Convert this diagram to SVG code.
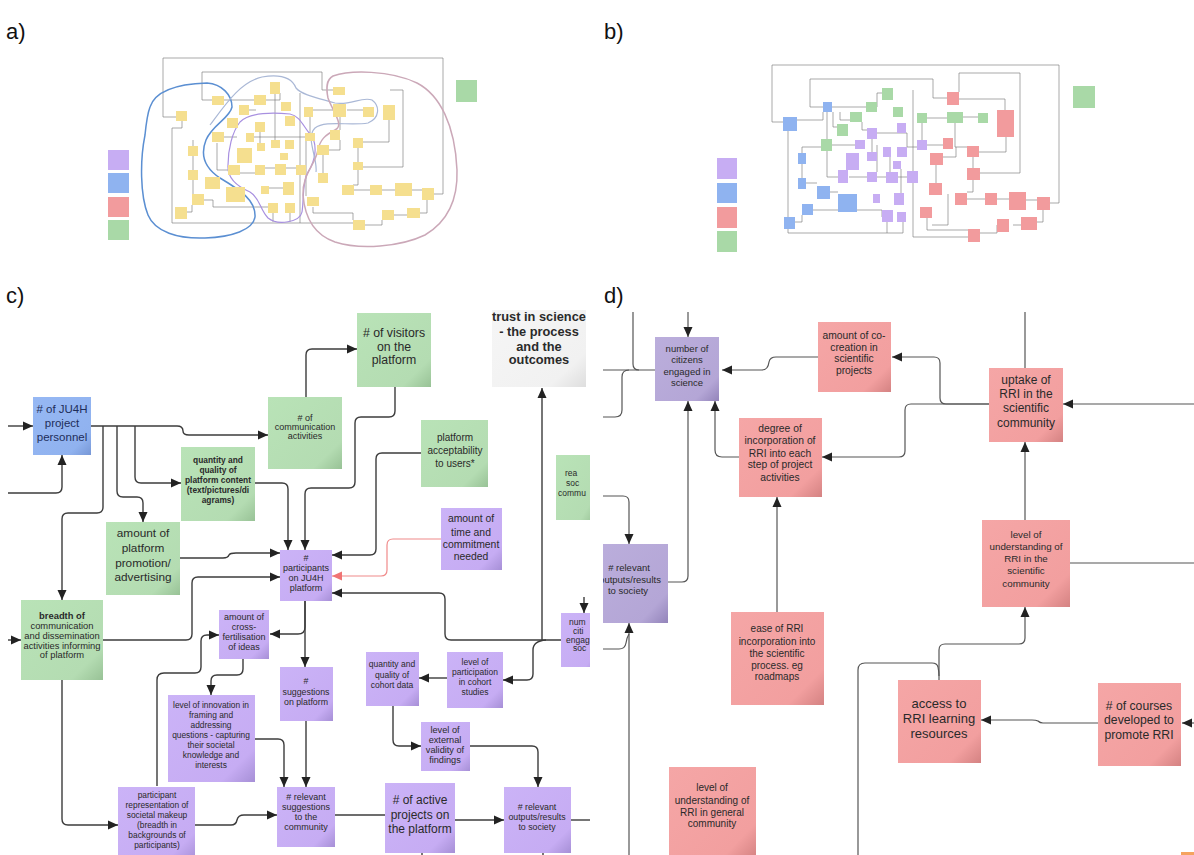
<svg xmlns="http://www.w3.org/2000/svg" width="1194" height="855" viewBox="0 0 1194 855">
<defs>
<style>
.t{font-family:'Liberation Sans',Arial,sans-serif;fill:#2a2a2a;text-anchor:middle}
.lab{font-family:'Liberation Sans',Arial,sans-serif;font-size:22px;fill:#111}
.ln{fill:none;stroke:#3c3c3c;stroke-width:1.4}
.lr{fill:none;stroke:#f08a8a;stroke-width:1.2}
.ld{fill:none;stroke:#555;stroke-width:1.2}
.tl{fill:none;stroke:#707070;stroke-width:0.6}
.ty{fill:#f5df8f}
.tg{fill:#a9d9a7}
.tp{fill:#c7adf3}
.tb{fill:#8fb3f0}
.tr{fill:#f29b9d}
.arrow{marker-end:url(#ah)}
</style>
<linearGradient id="gG" x1="0" y1="0" x2="1" y2="1"><stop offset="0" stop-color="#b9e3b7"/><stop offset="0.8" stop-color="#b4dcb2"/><stop offset="1" stop-color="#98c296"/></linearGradient>
<linearGradient id="gP" x1="0" y1="0" x2="1" y2="1"><stop offset="0" stop-color="#cbb3f7"/><stop offset="0.8" stop-color="#c6acf3"/><stop offset="1" stop-color="#a68fd6"/></linearGradient>
<linearGradient id="gB" x1="0" y1="0" x2="1" y2="1"><stop offset="0" stop-color="#96b8f4"/><stop offset="0.8" stop-color="#90b2ef"/><stop offset="1" stop-color="#7797d6"/></linearGradient>
<linearGradient id="gR" x1="0" y1="0" x2="1" y2="1"><stop offset="0" stop-color="#f5a6a6"/><stop offset="0.8" stop-color="#f29f9f"/><stop offset="1" stop-color="#d48282"/></linearGradient>
<linearGradient id="gL" x1="0" y1="0" x2="1" y2="1"><stop offset="0" stop-color="#bbaedc"/><stop offset="0.8" stop-color="#b4a6d6"/><stop offset="1" stop-color="#9384ba"/></linearGradient>
<linearGradient id="gW" x1="0" y1="0" x2="1" y2="1"><stop offset="0" stop-color="#f6f6f6"/><stop offset="0.8" stop-color="#f1f1f1"/><stop offset="1" stop-color="#dedede"/></linearGradient>
<marker id="ah" viewBox="0 0 10 10" refX="10" refY="5" markerWidth="10" markerHeight="10" markerUnits="userSpaceOnUse" orient="auto"><path d="M0,0.5 L10,5 L0,9.5 z" fill="#222"/></marker>
<marker id="ahr" viewBox="0 0 10 10" refX="10" refY="5" markerWidth="10" markerHeight="10" markerUnits="userSpaceOnUse" orient="auto"><path d="M0,0.5 L10,5 L0,9.5 z" fill="#f07474"/></marker>
<clipPath id="clipC"><rect x="8" y="310" width="582" height="545"/></clipPath>
<clipPath id="clipD"><rect x="603" y="312" width="591" height="543"/></clipPath>
</defs>
<rect width="1194" height="855" fill="#fff"/>

<g id="panel-labels">
<text class="lab" x="6" y="39">a)</text>
<text class="lab" x="604" y="39">b)</text>
<text class="lab" x="6" y="303">c)</text>
<text class="lab" x="604" y="303">d)</text>
</g>

<!-- Panel a thumbnail -->
<g id="panel-a">
<g id="a-connectors">
<path class="tl" d="M163,58 H443 V194 H433"/>
<path class="tl" d="M163,58 V117 H176"/>
<path class="tl" d="M202,72 H322 V90 H333"/>
<path class="tl" d="M202,72 V100 H212"/>
<path class="tl" d="M182,121 V128 H172 V223 H300"/>
<path class="tl" d="M300,93 V223 H353"/>
<path class="tl" d="M223,100 H254"/>
<path class="tl" d="M266,100 H280 V93"/>
<path class="tl" d="M212,137 H237"/>
<path class="tl" d="M193,140 V147 M193,156 V170 M193,180 V194"/>
<path class="tl" d="M217,143 V170 H228"/>
<path class="tl" d="M253,137 H307"/>
<path class="tl" d="M265,168 H275 M286,168 H296"/>
<path class="tl" d="M313,110 H333 M347,110 H363"/>
<path class="tl" d="M340,117 V130"/>
<path class="tl" d="M389,120 V142 H363"/>
<path class="tl" d="M340,140 V150 H328"/>
<path class="tl" d="M358,148 V162 M358,170 V185 H353"/>
<path class="tl" d="M323,155 V173"/>
<path class="tl" d="M363,167 H403 V90 H390"/>
<path class="tl" d="M382,190 H395 M353,190 H370 M412,190 H422"/>
<path class="tl" d="M427,200 V213 H420"/>
<path class="tl" d="M393,215 H407"/>
<path class="tl" d="M365,225 H382 V220"/>
<path class="tl" d="M313,207 V213 H353 V220"/>
<path class="tl" d="M187,212 H192 V205"/>
<path class="tl" d="M203,200 H213 V207 H268"/>
<path class="tl" d="M273,213 V222 M290,213 V222"/>
<path class="tl" d="M265,188 H283 M255,173 H240"/>
<path class="tl" d="M260,126 V143 M275,92 V140 M245,110 H256"/>
<path class="tl" d="M310,117 V133 M306,140 V196"/>
</g>
<g id="a-loops" fill="none">
<path stroke="#5b8fd2" stroke-width="1.5" d="M150,107 C155,92 175,84 207,83 C222,84 232,95 232,107 C230,118 212,125 206,140 C200,155 205,168 220,178 C240,190 256,200 255,217 C253,230 232,237 205,238 C178,239 155,232 148,215 C140,195 140,160 145,135 C146,125 147,115 150,107 Z"/>
<path stroke="#a890e0" stroke-width="1.2" d="M240,122 C248,114 268,112 290,114 C300,116 303,126 310,134 C318,143 316,160 308,172 C302,182 304,200 302,212 C300,222 278,226 268,218 C260,210 260,198 250,192 C236,186 227,178 228,165 C228,150 232,132 240,122 Z"/>
<path stroke="#aab8d6" stroke-width="1.2" d="M210,125 C225,105 240,82 262,77 C280,74 292,78 296,88 C302,95 318,98 335,103 C350,106 362,96 372,100 C380,106 380,118 368,123 C350,126 325,120 315,128 C305,138 318,158 316,172"/>
<path stroke="#cba8b8" stroke-width="1.5" d="M333,76 C350,70 390,70 417,83 C440,95 455,125 457,170 C458,200 447,222 425,235 C400,247 360,250 335,242 C315,235 305,220 303,195 C302,175 315,165 318,150 C320,140 325,135 335,130 C345,126 332,110 328,98 C326,88 326,80 333,76 Z"/>
</g>
<g id="a-nodes">
<rect id="a1" class="ty" x="176" y="111" width="11" height="10"/>
<rect id="a2" class="ty" x="212" y="96" width="12" height="9"/>
<rect id="a3" class="ty" x="254" y="95" width="12" height="10"/>
<rect id="a4" class="ty" x="270" y="82" width="10" height="12"/>
<rect id="a5" class="ty" x="239" y="105" width="10" height="10"/>
<rect id="a6" class="ty" x="281" y="102" width="10" height="9"/>
<rect id="a7" class="ty" x="227" y="118" width="11" height="10"/>
<rect id="a8" class="ty" x="255" y="122" width="10" height="10"/>
<rect id="a9" class="ty" x="285" y="116" width="10" height="10"/>
<rect id="a10" class="ty" x="212" y="132" width="12" height="10"/>
<rect id="a11" class="ty" x="246" y="133" width="8" height="9"/>
<rect id="a12" class="ty" x="304" y="107" width="9" height="10"/>
<rect id="a13" class="ty" x="333" y="104" width="13" height="13"/>
<rect id="a14" class="ty" x="363" y="107" width="11" height="10"/>
<rect id="a15" class="ty" x="383" y="105" width="12" height="15"/>
<rect id="a16" class="ty" x="333" y="87" width="12" height="8"/>
<rect id="a17" class="ty" x="188" y="146" width="10" height="10"/>
<rect id="a18" class="ty" x="257" y="143" width="8" height="8"/>
<rect id="a19" class="ty" x="271" y="140" width="9" height="8"/>
<rect id="a20" class="ty" x="285" y="140" width="9" height="9"/>
<rect id="a21" class="ty" x="237" y="148" width="15" height="15"/>
<rect id="a22" class="ty" x="305" y="133" width="10" height="8"/>
<rect id="a23" class="ty" x="330" y="130" width="10" height="10"/>
<rect id="a24" class="ty" x="353" y="138" width="10" height="10"/>
<rect id="a25" class="ty" x="317" y="145" width="12" height="10"/>
<rect id="a26" class="ty" x="280" y="153" width="8" height="7"/>
<rect id="a27" class="ty" x="188" y="170" width="10" height="10"/>
<rect id="a28" class="ty" x="205" y="177" width="15" height="12"/>
<rect id="a29" class="ty" x="228" y="165" width="12" height="10"/>
<rect id="a30" class="ty" x="255" y="165" width="10" height="10"/>
<rect id="a31" class="ty" x="275" y="164" width="11" height="11"/>
<rect id="a32" class="ty" x="296" y="165" width="10" height="10"/>
<rect id="a33" class="ty" x="353" y="162" width="10" height="8"/>
<rect id="a34" class="ty" x="318" y="173" width="10" height="10"/>
<rect id="a35" class="ty" x="226" y="187" width="19" height="15"/>
<rect id="a36" class="ty" x="261" y="186" width="8" height="8"/>
<rect id="a37" class="ty" x="283" y="182" width="11" height="13"/>
<rect id="a38" class="ty" x="192" y="194" width="12" height="11"/>
<rect id="a39" class="ty" x="175" y="207" width="12" height="12"/>
<rect id="a40" class="ty" x="268" y="203" width="10" height="10"/>
<rect id="a41" class="ty" x="285" y="203" width="10" height="10"/>
<rect id="a42" class="ty" x="307" y="197" width="12" height="9"/>
<rect id="a43" class="ty" x="342" y="185" width="12" height="10"/>
<rect id="a44" class="ty" x="370" y="185" width="12" height="10"/>
<rect id="a45" class="ty" x="395" y="183" width="17" height="13"/>
<rect id="a46" class="ty" x="422" y="188" width="12" height="12"/>
<rect id="a47" class="ty" x="382" y="210" width="12" height="10"/>
<rect id="a48" class="ty" x="407" y="208" width="13" height="10"/>
<rect id="a49" class="ty" x="353" y="220" width="12" height="10"/>
</g>
<g id="a-legend">
<rect id="a-leg1" class="tp" x="108" y="150" width="21" height="20"/>
<rect id="a-leg2" class="tb" x="108" y="173" width="21" height="20"/>
<rect id="a-leg3" class="tr" x="108" y="197" width="21" height="20"/>
<rect id="a-leg4" class="tg" x="108" y="220" width="21" height="20"/>
<rect id="a-side" class="tg" x="456" y="80" width="21" height="22"/>
</g>
</g>

<!-- Panel b thumbnail -->
<g id="panel-b">
<g id="b-connectors">
<path class="tl" d="M772,65 H1059 V203 H1050"/>
<path class="tl" d="M772,65 V122 H783"/>
<path class="tl" d="M810,79 H933 V98 H948"/>
<path class="tl" d="M810,79 V107 H823"/>
<path class="tl" d="M797,120 H823 V112"/>
<path class="tl" d="M788,131 V233 H903 V222"/>
<path class="tl" d="M887,233 V222"/>
<path class="tl" d="M913,90 V237 H968"/>
<path class="tl" d="M832,107 H866"/>
<path class="tl" d="M827,112 V139"/>
<path class="tl" d="M833,112 V127 H837"/>
<path class="tl" d="M840,112 V120 H850"/>
<path class="tl" d="M877,107 V93 H882"/>
<path class="tl" d="M827,151 V177 H838"/>
<path class="tl" d="M832,145 H855"/>
<path class="tl" d="M862,122 V130 H867"/>
<path class="tl" d="M877,133 H907 V147 H917"/>
<path class="tl" d="M872,139 V152"/>
<path class="tl" d="M927,145 H943"/>
<path class="tl" d="M922,123 V140"/>
<path class="tl" d="M927,118 H947"/>
<path class="tl" d="M963,117 H978"/>
<path class="tl" d="M955,123 V147 H967"/>
<path class="tl" d="M1006,137 V152 H979"/>
<path class="tl" d="M973,157 V168"/>
<path class="tl" d="M973,180 V192 H967"/>
<path class="tl" d="M980,173 H1020 V73 H959 V92"/>
<path class="tl" d="M953,99 H1005 V110"/>
<path class="tl" d="M936,165 V183"/>
<path class="tl" d="M943,157 H956 V147"/>
<path class="tl" d="M997,199 H1009 M967,199 H985 M1026,200 H1037"/>
<path class="tl" d="M1043,210 V222 H1037"/>
<path class="tl" d="M1013,225 H1021"/>
<path class="tl" d="M980,233 H997 V225"/>
<path class="tl" d="M927,218 V230 H968"/>
<path class="tl" d="M948,194 V225 H932"/>
<path class="tl" d="M849,177 H867 M877,177 H886 M898,177 H907"/>
<path class="tl" d="M830,192 H838 M806,183 H817"/>
<path class="tl" d="M795,222 H802 V215"/>
<path class="tl" d="M802,178 V164 M802,153 V147 H821"/>
<path class="tl" d="M813,210 H882 V217"/>
<path class="tl" d="M877,145 V172 M890,157 V172 M901,169 V193"/>
</g>
<g id="b-nodes">
<rect id="b1" class="tb" x="783" y="117" width="14" height="14"/>
<rect id="b2" class="tb" x="823" y="102" width="9" height="10"/>
<rect id="b3" class="tb" x="798" y="153" width="8" height="11"/>
<rect id="b4" class="tb" x="798" y="178" width="8" height="11"/>
<rect id="b5" class="tb" x="817" y="186" width="13" height="13"/>
<rect id="b6" class="tb" x="838" y="194" width="19" height="18"/>
<rect id="b7" class="tb" x="802" y="204" width="11" height="11"/>
<rect id="b8" class="tb" x="784" y="217" width="11" height="12"/>
<rect id="b9" class="tg" x="882" y="88" width="11" height="12"/>
<rect id="b10" class="tg" x="866" y="102" width="11" height="10"/>
<rect id="b11" class="tg" x="893" y="107" width="10" height="10"/>
<rect id="b12" class="tg" x="850" y="112" width="12" height="10"/>
<rect id="b13" class="tg" x="837" y="124" width="11" height="12"/>
<rect id="b14" class="tg" x="821" y="139" width="11" height="12"/>
<rect id="b15" class="tg" x="917" y="113" width="10" height="10"/>
<rect id="b16" class="tg" x="947" y="112" width="16" height="11"/>
<rect id="b17" class="tg" x="978" y="113" width="10" height="10"/>
<rect id="b18" class="tp" x="897" y="123" width="9" height="10"/>
<rect id="b19" class="tp" x="867" y="128" width="10" height="11"/>
<rect id="b20" class="tp" x="855" y="140" width="10" height="9"/>
<rect id="b21" class="tp" x="867" y="152" width="10" height="9"/>
<rect id="b22" class="tp" x="846" y="153" width="13" height="17"/>
<rect id="b23" class="tp" x="883" y="147" width="8" height="10"/>
<rect id="b24" class="tp" x="897" y="147" width="10" height="10"/>
<rect id="b25" class="tp" x="917" y="140" width="10" height="10"/>
<rect id="b26" class="tp" x="893" y="161" width="8" height="8"/>
<rect id="b27" class="tp" x="838" y="170" width="10" height="13"/>
<rect id="b28" class="tp" x="867" y="172" width="10" height="10"/>
<rect id="b29" class="tp" x="886" y="172" width="12" height="11"/>
<rect id="b30" class="tp" x="907" y="171" width="11" height="12"/>
<rect id="b31" class="tp" x="873" y="194" width="7" height="9"/>
<rect id="b32" class="tp" x="894" y="193" width="10" height="12"/>
<rect id="b33" class="tp" x="882" y="210" width="11" height="12"/>
<rect id="b34" class="tp" x="897" y="212" width="9" height="10"/>
<rect id="b35" class="tr" x="947" y="92" width="12" height="13"/>
<rect id="b36" class="tr" x="997" y="110" width="17" height="27"/>
<rect id="b37" class="tr" x="943" y="138" width="10" height="11"/>
<rect id="b38" class="tr" x="930" y="153" width="13" height="12"/>
<rect id="b39" class="tr" x="967" y="146" width="12" height="11"/>
<rect id="b40" class="tr" x="967" y="168" width="13" height="12"/>
<rect id="b41" class="tr" x="929" y="183" width="13" height="12"/>
<rect id="b42" class="tr" x="955" y="193" width="12" height="12"/>
<rect id="b43" class="tr" x="985" y="193" width="12" height="12"/>
<rect id="b44" class="tr" x="1009" y="192" width="17" height="18"/>
<rect id="b45" class="tr" x="1037" y="197" width="13" height="13"/>
<rect id="b46" class="tr" x="920" y="207" width="12" height="11"/>
<rect id="b47" class="tr" x="997" y="219" width="12" height="13"/>
<rect id="b48" class="tr" x="1021" y="217" width="16" height="13"/>
<rect id="b49" class="tr" x="968" y="229" width="12" height="13"/>
</g>
<g id="b-legend">
<rect id="b-leg1" class="tp" x="717" y="158" width="20" height="21"/>
<rect id="b-leg2" class="tb" x="717" y="183" width="20" height="20"/>
<rect id="b-leg3" class="tr" x="717" y="207" width="20" height="21"/>
<rect id="b-leg4" class="tg" x="717" y="231" width="20" height="21"/>
<rect id="b-side" class="tg" x="1073" y="86" width="22" height="22"/>
</g>
</g>

<!-- Panel c -->
<g id="panel-c">
<g id="c-connectors" clip-path="url(#clipC)">
<path class="ln arrow" d="M8,426 H33"/>
<path class="ln arrow" d="M8,493 H56 Q62,493 62,487 V455"/>
<path class="ln arrow" d="M91,426 H177 Q183,426 183,431 Q183,435 189,435 H268"/>
<path class="ln arrow" d="M135,426 V477 Q135,483 141,483 H181"/>
<path class="ln arrow" d="M117,426 V491 Q117,497 123,497 H137 Q143,497 143,503 V522"/>
<path class="ln arrow" d="M103,426 V507 Q103,513 97,513 H68 Q62,513 62,519 V600"/>
<path class="ln arrow" d="M8,640 H21"/>
<path class="ln arrow" d="M103,640 H186 Q192,640 192,634 V583 Q192,577 198,577 H280"/>
<path class="ln arrow" d="M180,558 H223 Q228,558 229,555 Q230,553 236,553 H280"/>
<path class="ln arrow" d="M255,483 H282 Q288,483 288,489 V550"/>
<path class="ln arrow" d="M395,387 V411 Q395,417 389,417 H361 Q355,417 355,423 V482 Q355,488 349,488 H311 Q305,488 305,494 V550"/>
<path class="ln arrow" d="M306,397 V355 Q306,349 312,349 H357"/>
<path class="ln arrow" d="M421,453 H382 Q376,453 376,459 V549 Q376,555 370,555 H332"/>
<path class="lr" marker-end="url(#ahr)" d="M441,539 H393 Q387,539 387,545 V570 Q387,576 381,576 H332"/>
<path class="ln arrow" d="M561,640 H451 Q445,640 445,634 V599 Q445,593 439,593 H332"/>
<path class="ln arrow" d="M542,640 V388"/>
<path class="ln arrow" d="M546,640 Q533,641 533,650 V674 Q533,680 527,680 H503"/>
<path class="ln arrow" d="M584,597 V613"/>
<path class="ln arrow" d="M305,601 V627 Q305,634 298,634 H270"/>
<path class="ln arrow" d="M305,601 V667"/>
<path class="ln arrow" d="M157,786 V680 Q157,673 164,673 H195 Q201,673 201,667 V641 Q201,635 207,635 H219"/>
<path class="ln arrow" d="M243,658 V669 Q243,675 237,675 H217 Q211,675 211,681 V695"/>
<path class="ln arrow" d="M255,739 H278 Q284,739 284,745 V787"/>
<path class="ln arrow" d="M306,720 V787"/>
<path class="ln arrow" d="M62,680 V819 Q62,825 68,825 H118"/>
<path class="ln arrow" d="M195,825 H231 Q236,825 237,820 Q238,815 244,815 H277"/>
<path class="ln" d="M335,815 H385"/>
<path class="ln arrow" d="M455,820 H504"/>
<path class="ln" d="M571,820 H590"/>
<path class="ln arrow" d="M393,706 V740 Q393,746 399,746 H421"/>
<path class="ln arrow" d="M447,678 H419"/>
<path class="ln arrow" d="M470,746 H532 Q538,746 538,752 V787"/>
<path class="ln" d="M422,848 V855 M543,848 V855"/>
</g>
<g id="c-nodes" clip-path="url(#clipC)">
<g id="c-ju4h"><rect x="33" y="397" width="58" height="58" fill="url(#gB)"/>
<text class="t" style="font-size:11.5px;fill:#1e2d5a"><tspan x="62" y="413"># of JU4H</tspan><tspan x="62" y="427">project</tspan><tspan x="62" y="441">personnel</tspan></text></g>
<g id="c-comm"><rect x="268" y="397" width="74" height="72" fill="url(#gG)"/>
<text class="t" style="font-size:9px"><tspan x="305" y="421"># of</tspan><tspan x="305" y="430">communication</tspan><tspan x="305" y="439">activities</tspan></text></g>
<g id="c-visitors"><rect x="357" y="313" width="74" height="74" fill="url(#gG)"/>
<text class="t" style="font-size:12.3px"><tspan x="394" y="337"># of visitors</tspan><tspan x="394" y="351">on the</tspan><tspan x="394" y="364">platform</tspan></text></g>
<g id="c-trust"><rect x="492" y="300" width="94" height="87" fill="url(#gW)"/>
<text class="t" style="font-size:12.8px;font-weight:bold"><tspan x="539" y="321">trust in science</tspan><tspan x="539" y="336">- the process</tspan><tspan x="539" y="351">and the</tspan><tspan x="539" y="364">outcomes</tspan></text></g>
<g id="c-accept"><rect x="421" y="420" width="67" height="67" fill="url(#gG)"/>
<text class="t" style="font-size:10px"><tspan x="455" y="441">platform</tspan><tspan x="455" y="454">acceptability</tspan><tspan x="455" y="467">to users*</tspan></text></g>
<g id="c-reach"><rect x="556" y="455" width="40" height="65" fill="url(#gG)"/>
<text class="t" style="font-size:8.5px;text-anchor:start"><tspan x="565" y="476">rea</tspan><tspan x="566" y="486">soc</tspan><tspan x="558" y="496">commu</tspan></text></g>
<g id="c-content"><rect x="181" y="447" width="74" height="74" fill="url(#gG)"/>
<text class="t" style="font-size:8.4px;font-weight:bold"><tspan x="218" y="463">quantity and</tspan><tspan x="218" y="473">quality of</tspan><tspan x="218" y="483">platform content</tspan><tspan x="218" y="493">(text/pictures/di</tspan><tspan x="218" y="503">agrams)</tspan></text></g>
<g id="c-promo"><rect x="106" y="522" width="74" height="73" fill="url(#gG)"/>
<text class="t" style="font-size:11.8px"><tspan x="143" y="537">amount of</tspan><tspan x="143" y="552">platform</tspan><tspan x="143" y="567">promotion/</tspan><tspan x="143" y="581">advertising</tspan></text></g>
<g id="c-breadth"><rect x="21" y="600" width="82" height="80" fill="url(#gG)"/>
<text class="t" style="font-size:9.4px"><tspan x="62" y="619" font-weight="bold">breadth of</tspan><tspan x="62" y="629">communication</tspan><tspan x="62" y="639">and dissemination</tspan><tspan x="62" y="649">activities informing</tspan><tspan x="62" y="658">of platform</tspan></text></g>
<g id="c-participants"><rect x="280" y="550" width="52" height="51" fill="url(#gP)"/>
<text class="t" style="font-size:9px"><tspan x="306" y="561">#</tspan><tspan x="306" y="571">participants</tspan><tspan x="306" y="581">on JU4H</tspan><tspan x="306" y="591">platform</tspan></text></g>
<g id="c-time"><rect x="441" y="508" width="61" height="62" fill="url(#gP)"/>
<text class="t" style="font-size:10.4px"><tspan x="471" y="522">amount of</tspan><tspan x="471" y="536">time and</tspan><tspan x="471" y="548">commitment</tspan><tspan x="471" y="560">needed</tspan></text></g>
<g id="c-cross"><rect x="219" y="610" width="50" height="49" fill="url(#gP)"/>
<text class="t" style="font-size:9px"><tspan x="244" y="620">amount of</tspan><tspan x="244" y="630">cross-</tspan><tspan x="244" y="640">fertilisation</tspan><tspan x="244" y="650">of ideas</tspan></text></g>
<g id="c-sugg"><rect x="280" y="667" width="53" height="54" fill="url(#gP)"/>
<text class="t" style="font-size:8.8px"><tspan x="306" y="684">#</tspan><tspan x="306" y="695">suggestions</tspan><tspan x="306" y="705">on platform</tspan></text></g>
<g id="c-innov"><rect x="168" y="695" width="87" height="87" fill="url(#gP)"/>
<text class="t" style="font-size:8.4px"><tspan x="211" y="708">level of innovation in</tspan><tspan x="211" y="718">framing and</tspan><tspan x="211" y="728">addressing</tspan><tspan x="211" y="738">questions - capturing</tspan><tspan x="211" y="748">their societal</tspan><tspan x="211" y="758">knowledge and</tspan><tspan x="211" y="768">interests</tspan></text></g>
<g id="c-repr"><rect x="118" y="787" width="77" height="75" fill="url(#gP)"/>
<text class="t" style="font-size:8.4px"><tspan x="157" y="798">participant</tspan><tspan x="157" y="808">representation of</tspan><tspan x="157" y="818">societal makeup</tspan><tspan x="157" y="828">(breadth in</tspan><tspan x="157" y="838">backgrounds of</tspan><tspan x="157" y="848">participants)</tspan></text></g>
<g id="c-relsugg"><rect x="277" y="787" width="58" height="60" fill="url(#gP)"/>
<text class="t" style="font-size:9px"><tspan x="306" y="800"># relevant</tspan><tspan x="306" y="810">suggestions</tspan><tspan x="306" y="820">to the</tspan><tspan x="306" y="830">community</tspan></text></g>
<g id="c-active"><rect x="385" y="783" width="70" height="70" fill="url(#gP)"/>
<text class="t" style="font-size:12px"><tspan x="420" y="804"># of active</tspan><tspan x="420" y="819">projects on</tspan><tspan x="420" y="833">the platform</tspan></text></g>
<g id="c-outputs"><rect x="504" y="787" width="67" height="66" fill="url(#gP)"/>
<text class="t" style="font-size:8.8px"><tspan x="537" y="810"># relevant</tspan><tspan x="537" y="820">outputs/results</tspan><tspan x="537" y="830">to society</tspan></text></g>
<g id="c-cohort"><rect x="366" y="652" width="53" height="54" fill="url(#gP)"/>
<text class="t" style="font-size:8.5px"><tspan x="392" y="667">quantity and</tspan><tspan x="392" y="678">quality of</tspan><tspan x="392" y="688">cohort data</tspan></text></g>
<g id="c-particip"><rect x="447" y="652" width="56" height="56" fill="url(#gP)"/>
<text class="t" style="font-size:8.5px"><tspan x="475" y="665">level of</tspan><tspan x="475" y="675">participation</tspan><tspan x="475" y="685">in cohort</tspan><tspan x="475" y="695">studies</tspan></text></g>
<g id="c-validity"><rect x="421" y="722" width="49" height="49" fill="url(#gP)"/>
<text class="t" style="font-size:9.2px"><tspan x="445" y="733">level of</tspan><tspan x="445" y="743">external</tspan><tspan x="445" y="753">validity of</tspan><tspan x="445" y="763">findings</tspan></text></g>
<g id="c-citizens"><rect x="561" y="613" width="40" height="54" fill="url(#gP)"/>
<text class="t" style="font-size:8.5px;text-anchor:start"><tspan x="569" y="625">num</tspan><tspan x="573" y="634">citi</tspan><tspan x="566" y="643">engag</tspan><tspan x="573" y="651">soc</tspan></text></g>
</g>
</g>

<!-- Panel d -->
<g id="panel-d">
<g id="d-connectors" clip-path="url(#clipD)">
<path class="ld arrow" d="M688,312 V337"/>
<path class="ld" d="M603,370 H655"/>
<path class="ld" d="M633,312 V364 Q633,370 639,370"/>
<path class="ld" d="M603,417 H615 Q622,417 622,410 V377 Q622,370 629,370"/>
<path class="ld arrow" d="M668,582 H682 Q688,582 688,576 V401"/>
<path class="ld arrow" d="M739,457 H722 Q715,457 715,450 V401"/>
<path class="ld arrow" d="M818,357 H776 Q770,357 769,362 Q768,370 762,370 H722"/>
<path class="ld arrow" d="M989,404 H946 Q940,404 940,398 V363 Q940,357 934,357 H892"/>
<path class="ld arrow" d="M989,404 H911 Q905,404 905,410 V451 Q905,457 899,457 H822"/>
<path class="ld" d="M1025,312 V368"/>
<path class="ld arrow" d="M1025,520 V442"/>
<path class="ld arrow" d="M1194,404 H1063"/>
<path class="ld" d="M1070,563 H1194"/>
<path class="ld arrow" d="M939,680 V650 Q939,644 945,644 H1019 Q1025,644 1025,638 V607"/>
<path class="ld" d="M858,855 V670 Q858,663 865,663 H932 Q937,663 938,667 Q939,672 939,676"/>
<path class="ld arrow" d="M1098,723 H1043 Q1040,723 1038,721 Q1036,720 1032,720 H981"/>
<path class="ld arrow" d="M1194,723 H1182"/>
<path class="ld arrow" d="M777,612 V497"/>
<path class="ld arrow" d="M603,496 H623 Q629,496 629,502 V544"/>
<path class="ld arrow" d="M629,855 V623"/>
<path class="ld" d="M603,649 H619 Q625,649 626,643 Q627,637 629,634"/>
<path class="ld" d="M713,848 V855 M742,848 V855"/>
</g>
<g id="d-nodes" clip-path="url(#clipD)">
<g id="d-citizens"><rect x="655" y="337" width="64" height="64" fill="url(#gL)"/>
<text class="t" style="font-size:9.5px"><tspan x="687" y="352">number of</tspan><tspan x="687" y="363">citizens</tspan><tspan x="687" y="375">engaged in</tspan><tspan x="687" y="386">science</tspan></text></g>
<g id="d-cocreation"><rect x="818" y="322" width="73" height="70" fill="url(#gR)"/>
<text class="t" style="font-size:10.3px"><tspan x="854" y="339">amount of co-</tspan><tspan x="854" y="351">creation in</tspan><tspan x="854" y="362">scientific</tspan><tspan x="854" y="374">projects</tspan></text></g>
<g id="d-degree"><rect x="739" y="418" width="83" height="79" fill="url(#gR)"/>
<text class="t" style="font-size:10.3px"><tspan x="780" y="432">degree of</tspan><tspan x="780" y="444">incorporation of</tspan><tspan x="780" y="457">RRI into each</tspan><tspan x="780" y="468">step of project</tspan><tspan x="780" y="481">activities</tspan></text></g>
<g id="d-uptake"><rect x="989" y="368" width="74" height="74" fill="url(#gR)"/>
<text class="t" style="font-size:12px"><tspan x="1026" y="384">uptake of</tspan><tspan x="1026" y="398">RRI in the</tspan><tspan x="1026" y="412">scientific</tspan><tspan x="1026" y="427">community</tspan></text></g>
<g id="d-undersci"><rect x="982" y="520" width="88" height="87" fill="url(#gR)"/>
<text class="t" style="font-size:9.8px"><tspan x="1026" y="538">level of</tspan><tspan x="1026" y="550">understanding  of</tspan><tspan x="1026" y="562">RRI in the</tspan><tspan x="1026" y="574">scientific</tspan><tspan x="1026" y="587">community</tspan></text></g>
<g id="d-outputs"><rect x="595" y="544" width="73" height="79" fill="url(#gL)"/>
<text class="t" style="font-size:9.5px"><tspan x="629" y="571"># relevant</tspan><tspan x="630" y="583">outputs/results</tspan><tspan x="628" y="594">to society</tspan></text></g>
<g id="d-ease"><rect x="731" y="612" width="93" height="93" fill="url(#gR)"/>
<text class="t" style="font-size:10px"><tspan x="777" y="632">ease of RRI</tspan><tspan x="777" y="645">incorporation into</tspan><tspan x="777" y="657">the scientific</tspan><tspan x="777" y="669">process. eg</tspan><tspan x="777" y="680">roadmaps</tspan></text></g>
<g id="d-general"><rect x="669" y="767" width="87" height="92" fill="url(#gR)"/>
<text class="t" style="font-size:10px"><tspan x="712" y="791">level of</tspan><tspan x="712" y="804">understanding of</tspan><tspan x="712" y="816">RRI in general</tspan><tspan x="712" y="827">community</tspan></text></g>
<g id="d-access"><rect x="898" y="680" width="83" height="83" fill="url(#gR)"/>
<text class="t" style="font-size:13px"><tspan x="939" y="708">access to</tspan><tspan x="939" y="723">RRI learning</tspan><tspan x="939" y="738">resources</tspan></text></g>
<g id="d-courses"><rect x="1098" y="683" width="83" height="83" fill="url(#gR)"/>
<text class="t" style="font-size:12.2px"><tspan x="1139" y="710"># of courses</tspan><tspan x="1139" y="724">developed to</tspan><tspan x="1139" y="739">promote RRI</tspan></text></g>
<g id="d-corner"><rect x="1181" y="852" width="14" height="4" fill="#f5a35e"/></g>
</g>
</g>
</svg>
